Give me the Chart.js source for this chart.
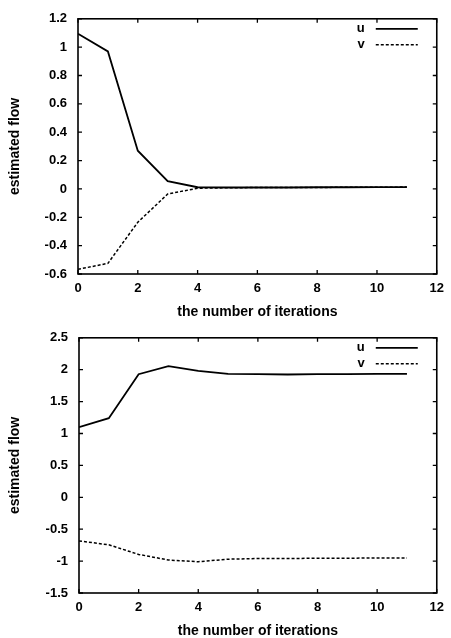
<!DOCTYPE html>
<html>
<head>
<meta charset="utf-8">
<script src="https://cdn.jsdelivr.net/npm/chart.js@4"></script>
<style>
html,body{margin:0;padding:0;background:#fff;}
.box{position:absolute;left:0;width:451px;height:319px;}
</style>
</head>
<body>
<div class="box" style="top:0"><canvas id="c1" width="451" height="319"></canvas></div>
<div class="box" style="top:319px"><canvas id="c2" width="451" height="319"></canvas></div>
<script>
const iterations = [0,1,2,3,4,5,6,7,8,9,10,11];
const top_u = [1.095,0.97,0.27,0.055,0.012,0.01,0.01,0.01,0.012,0.012,0.013,0.013];
const top_v = [-0.567,-0.525,-0.235,-0.036,0.005,0.008,0.01,0.01,0.01,0.012,0.012,0.013];
const bot_u = [1.10,1.24,1.93,2.055,1.98,1.935,1.93,1.925,1.93,1.93,1.935,1.935];
const bot_v = [-0.683,-0.745,-0.895,-0.983,-1.01,-0.97,-0.96,-0.96,-0.955,-0.955,-0.95,-0.95];
const xTicks = [0,2,4,6,8,10,12];
const topYTicks = [-0.6,-0.4,-0.2,0,0.2,0.4,0.6,0.8,1,1.2];
const botYTicks = [-1.5,-1,-0.5,0,0.5,1,1.5,2,2.5];
const seriesNames = ['u','v'];
const xTitle = 'the number of iterations';
const yTitle = 'estimated flow';

const FONT = '"Liberation Sans", Arial, sans-serif';
const fmt = v => String(Math.round(v * 10) / 10);

const framePlugin = {
  id: 'frame',
  afterDraw(chart) {
    const ctx = chart.ctx;
    const a = chart.chartArea;
    const xs = chart.scales.x, ys = chart.scales.y;
    ctx.save();
    ctx.strokeStyle = '#000';
    ctx.lineWidth = 1.6;
    ctx.strokeRect(a.left, a.top, a.right - a.left, a.bottom - a.top);
    ctx.lineWidth = 1.3;
    const L = 4;
    ctx.beginPath();
    xs.ticks.forEach(t => {
      const px = xs.getPixelForValue(t.value);
      ctx.moveTo(px, a.bottom); ctx.lineTo(px, a.bottom - L);
      ctx.moveTo(px, a.top); ctx.lineTo(px, a.top + L);
    });
    ys.ticks.forEach(t => {
      const py = ys.getPixelForValue(t.value);
      ctx.moveTo(a.left, py); ctx.lineTo(a.left + L, py);
      ctx.moveTo(a.right, py); ctx.lineTo(a.right - L, py);
    });
    ctx.stroke();
    // legend
    ctx.font = 'bold 13px ' + FONT;
    ctx.textAlign = 'right';
    ctx.textBaseline = 'middle';
    chart.data.datasets.forEach((ds, i) => {
      const y = a.top + 10 + i * 16;
      ctx.fillStyle = '#000';
      ctx.fillText(ds.label, a.right - 72, y);
      ctx.beginPath();
      ctx.lineWidth = ds.borderWidth;
      ctx.setLineDash(ds.borderDash || []);
      ctx.moveTo(a.right - 61, y);
      ctx.lineTo(a.right - 19, y);
      ctx.stroke();
      ctx.setLineDash([]);
    });
    ctx.restore();
  }
};

function makeChart(id, u, v, yTicks, ymin, ymax, leftW, rightPad) {
  return new Chart(document.getElementById(id), {
    type: 'line',
    data: {
      datasets: [
        {label: seriesNames[0], data: iterations.map((x,i)=>({x, y:u[i]})), borderColor:'#000', borderWidth:1.8, pointRadius:0, tension:0, fill:false},
        {label: seriesNames[1], data: iterations.map((x,i)=>({x, y:v[i]})), borderColor:'#000', borderWidth:1.5, borderDash:[3,2], pointRadius:0, tension:0, fill:false}
      ]
    },
    options: {
      responsive:false, animation:false, devicePixelRatio:1,
      layout:{padding:{top:17,right:rightPad,bottom:0,left:0}},
      plugins:{legend:{display:false}, tooltip:{enabled:false}},
      scales:{
        x:{type:'linear', min:0, max:12,
          afterBuildTicks(s){ s.ticks = xTicks.map(v=>({value:v})); },
          afterFit(s){ s.height = 45; },
          grid:{display:false, drawTicks:false},
          border:{display:false},
          ticks:{color:'#000', padding:7, callback:fmt, font:{family:FONT, size:13, weight:'bold'}, maxRotation:0, autoSkip:false},
          title:{display:true, text:xTitle, color:'#000', padding:{top:0,bottom:0}, font:{family:FONT, size:14, weight:'bold', lineHeight:1}}
        },
        y:{type:'linear', min:ymin, max:ymax,
          afterBuildTicks(s){ s.ticks = yTicks.map(v=>({value:v})); },
          afterFit(s){ s.width = leftW; },
          grid:{display:false, drawTicks:false},
          border:{display:false},
          ticks:{color:'#000', padding:11, callback:fmt, font:{family:FONT, size:13, weight:'bold'}, autoSkip:false},
          title:{display:true, text:yTitle, color:'#000', padding:{top:7,bottom:0}, font:{family:FONT, size:14, weight:'bold', lineHeight:1.2}}
        }
      }
    },
    plugins:[framePlugin]
  });
}
makeChart('c1', top_u, top_v, topYTicks, -0.6, 1.2, 78, 11);
makeChart('c2', bot_u, bot_v, botYTicks, -1.5, 2.5, 79, 9.5);
</script>
</body>
</html>
